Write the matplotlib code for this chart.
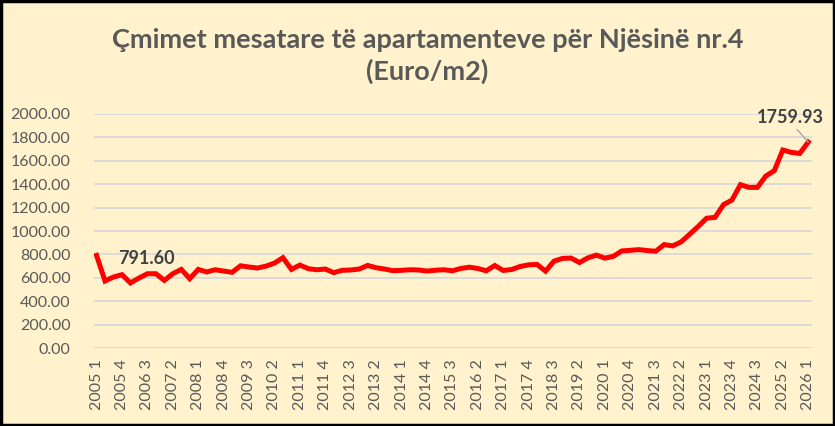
import matplotlib
matplotlib.use('Agg')
import matplotlib.pyplot as plt
import numpy as np

# Quarterly average prices, 2005 Q1 .. 2026 Q1 (Euro/m2)
years = [y for y in range(2005, 2026) for _ in range(4)] + [2026]
quarters = [q for _ in range(2005, 2026) for q in range(1, 5)] + [1]
prices = [
    791.60, 573, 607, 627, 556, 598, 635, 635, 578, 635,
    672, 593, 672, 650, 669, 658, 647, 703, 692, 684,
    700, 726, 772, 672, 709, 678, 669, 675, 644, 664,
    667, 675, 706, 686, 675, 661, 664, 669, 667, 658,
    665, 669, 660, 680, 691, 680, 660, 705, 663, 671,
    697, 711, 714, 657, 743, 766, 769, 731, 771, 794,
    768, 784, 830, 835, 841, 833, 827, 884, 873, 907,
    972, 1038, 1109, 1117, 1225, 1265, 1396, 1373, 1373, 1470,
    1516, 1692, 1672, 1663, 1759.93,
]
labels = [f'{y} {q}' for y, q in zip(years, quarters)]
title = 'Çmimet mesatare të apartamenteve për Njësinë nr.4\n(Euro/m2)'

bg = '#FFF2CC'
text_grey = '#595959'

plt.rcParams['font.family'] = ['Lato', 'DejaVu Sans']

fig = plt.figure(figsize=(8.35, 4.26), dpi=100, facecolor=bg)
ax = fig.add_axes([0.1126, 0.183, 0.8599, 0.5494])
ax.set_facecolor(bg)

x = np.arange(len(prices))
ax.plot(x, prices, color='#FF0000', lw=3.6, solid_joinstyle='miter', zorder=3)

ax.set_ylim(0, 2000)
ax.set_xlim(-0.3, len(prices) - 1 + 0.45)
ax.set_yticks(np.arange(0, 2001, 200))
ax.set_yticklabels([f'{v:.2f}' for v in np.arange(0, 2001, 200)])
ax.set_xticks(x[::3])
ax.set_xticklabels(labels[::3], rotation=90)
ax.tick_params(axis='both', length=0, colors=text_grey, labelsize=11.5)
ax.tick_params(axis='y', pad=17)
ax.tick_params(axis='x', pad=8)
ax.grid(axis='y', color='#D9D9D9', lw=1.3)
ax.set_axisbelow(True)
for s in ax.spines.values():
    s.set_visible(False)

# data labels on first and last point
ax.annotate(f'{prices[0]:.2f}', (x[0], prices[0]), xytext=(50, -3),
            textcoords='offset pixels', ha='center', va='center',
            fontsize=13, fontweight='bold', color='#404040')
ax.annotate(f'{prices[-1]:.2f}', (x[-1], prices[-1]), xytext=(-18, 25),
            textcoords='offset pixels', ha='center', va='center',
            fontsize=13, fontweight='bold', color='#404040',
            arrowprops=dict(arrowstyle='-', color='#A6A6A6', lw=1,
                            shrinkA=1, shrinkB=0, relpos=(0.55, 0)))

fig.text(0.512, 0.868, title, ha='center', va='center', fontsize=19.5,
         fontweight='bold', color=text_grey, linespacing=1.3)

# black frame round the figure
fig.patches.append(plt.Rectangle((0.0015, 0.003), 0.997, 0.994, transform=fig.transFigure,
                                 fill=False, edgecolor='black', lw=2.5))

fig.savefig('out.png', dpi=100, facecolor=bg)
